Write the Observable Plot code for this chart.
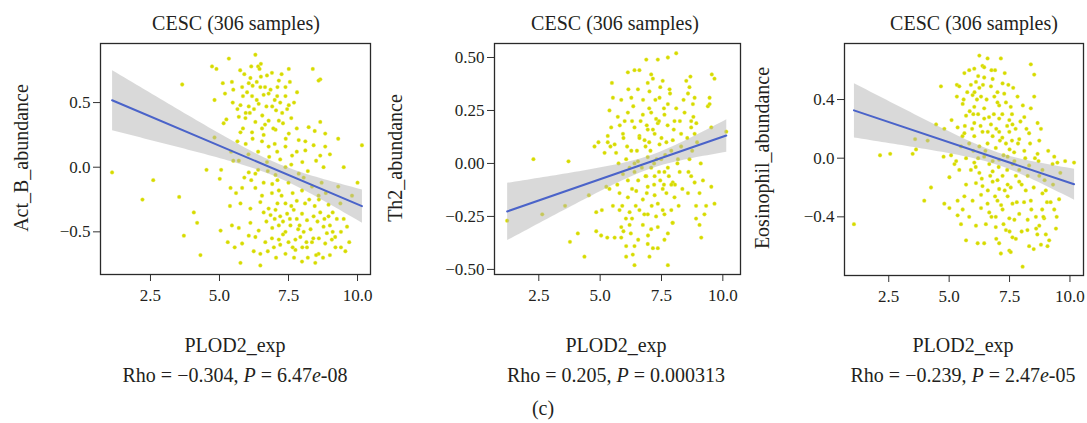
<!DOCTYPE html>
<html><head><meta charset="utf-8">
<script src="https://cdn.jsdelivr.net/npm/d3@7"></script>
<script src="https://cdn.jsdelivr.net/npm/@observablehq/plot@0.6"></script>
<style>
body{margin:0;background:#fff;}
#wrap{position:relative;width:1087px;height:423px;background:#fff;font-family:"Liberation Serif","Times New Roman",serif;color:#231f20;overflow:hidden;}
.t{position:absolute;transform:translate(-50%,-50%);white-space:nowrap;line-height:1;}
.yl{position:absolute;transform:translate(-50%,-50%) rotate(-90deg);white-space:nowrap;line-height:1;}
#wrap svg{position:absolute;top:0;overflow:visible;}
</style></head><body><div id="wrap"></div>
<script>
// ---------- data (PLOD2_exp, abundance) ----------
const actB = [
[1.11,-0.04],[2.21,-0.25],[2.60,-0.10],[3.54,-0.23],[3.65,0.64],[3.71,-0.53],[4.07,-0.35],[4.19,-0.43],[4.31,-0.68],[4.53,-0.02],
[4.73,0.78],[4.89,0.76],[4.82,0.52],[4.82,0.23],[5.01,-0.09],[5.06,-0.02],[5.04,-0.49],[5.34,0.84],[5.12,0.65],[5.20,0.57],
[5.15,0.34],[5.25,0.37],[5.40,-0.16],[5.38,-0.30],[5.45,0.66],[5.50,0.60],[5.48,0.50],[5.42,0.12],[5.50,0.05],[5.45,-0.45],
[5.55,-0.62],[5.30,-0.58],
[6.30,0.87],[6.40,0.78],[6.45,0.76],[6.72,0.71],[7.51,0.76],[8.38,0.76],[8.65,0.68],[8.59,0.67],[6.12,0.69],[6.06,0.65],
[7.15,0.67],[7.39,0.62],[5.82,0.62],[6.48,0.62],[6.78,0.57],[7.09,0.55],[7.39,0.55],[7.81,0.58],[6.18,0.55],[5.76,0.48],
[6.06,0.47],[6.42,0.49],[6.91,0.47],[7.51,0.48],[7.27,0.42],[5.70,0.39],[5.94,0.38],[6.30,0.35],[6.78,0.36],[7.15,0.36],
[8.65,0.35],[8.23,0.31],[5.76,0.27],[6.18,0.27],[6.54,0.30],[7.03,0.29],[7.51,0.26],[8.83,0.26],[7.87,0.21],[8.11,0.20],
[8.41,0.17],[8.83,0.16],[10.16,0.17],[6.54,0.20],[6.78,0.16],[7.09,0.12],[7.39,0.16],[7.63,0.09],[8.11,0.13],[6.72,0.04],
[8.65,0.09],[8.77,0.00],[9.50,0.00],[6.06,-0.04],[6.30,-0.05],[7.03,-0.06],[7.39,0.00],[7.87,-0.05],[6.91,-0.13],[5.82,-0.16],
[6.30,-0.16],[6.54,-0.22],[7.15,-0.18],[7.99,-0.18],[8.35,-0.15],[8.59,-0.22],[8.95,-0.29],[9.38,-0.28],[5.76,-0.28],[6.12,-0.32],
[6.48,-0.27],[6.78,-0.32],[7.03,-0.33],[7.39,-0.28],[7.69,-0.33],[7.99,-0.36],[8.17,-0.41],[8.41,-0.38],[8.77,-0.46],[8.89,-0.51],
[9.07,-0.56],[9.62,-0.46],[5.70,-0.47],[6.12,-0.43],[6.42,-0.49],[6.91,-0.47],[7.15,-0.45],[7.39,-0.50],[7.57,-0.45],[7.93,-0.54],
[6.06,-0.53],[6.30,-0.54],[6.66,-0.58],[7.15,-0.56],[7.75,-0.56],[5.82,-0.59],[6.24,-0.65],[6.48,-0.67],[6.97,-0.62],[7.39,-0.67],
[7.75,-0.64],[8.17,-0.62],[8.59,-0.67],[9.56,-0.65],[5.76,-0.74],[6.48,-0.76],[7.99,-0.73],[8.47,-0.74],[8.83,-0.59],[9.19,-0.54],
[5.90,0.72],[6.00,0.58],[6.10,0.42],[6.20,0.63],[6.25,0.45],[6.35,0.52],[6.50,0.70],[6.55,0.40],[6.60,0.56],[6.65,0.33],
[6.70,0.47],[6.85,0.60],[6.90,0.73],[6.95,0.30],[7.00,0.52],[7.05,0.44],[7.10,0.62],[7.20,0.50],[7.25,0.72],[7.30,0.34],
[7.45,0.45],[7.55,0.66],[7.60,0.38],[7.70,0.50],[7.80,0.30],[5.95,0.42],[6.15,0.78],[5.85,0.55],[6.35,0.66],[8.45,0.28],
[6.50,0.80],[6.65,0.62],[5.85,0.30],[5.95,0.18],[6.05,0.10],[6.20,0.22],[6.40,0.12],[6.60,0.25],[6.80,0.08],[7.00,0.18],
[7.20,0.06],[7.40,0.22],[7.60,0.02],[7.80,0.12],[8.00,0.04],[8.20,-0.03],[8.50,0.05],[9.00,0.10],[9.30,0.22],[5.90,-0.08],
[6.15,-0.10],[6.40,-0.02],[6.60,-0.12],[6.75,-0.03],[6.90,-0.20],[7.10,-0.10],[7.25,-0.22],[7.50,-0.12],[7.65,-0.20],[7.80,-0.26],
[8.05,-0.08],[8.25,-0.25],[8.45,-0.30],[8.70,-0.12],[8.85,-0.20],[9.10,-0.35],[9.30,-0.15],[9.50,-0.40],[9.80,-0.22],[8.95,-0.38],
[8.60,-0.25],[9.25,-0.40],[6.60,-0.35],[6.70,-0.42],[6.85,-0.37],[7.00,-0.40],[7.10,-0.28],[7.20,-0.38],[7.30,-0.42],[7.45,-0.36],
[7.55,-0.40],[7.60,-0.30],[7.80,-0.40],[7.90,-0.45],[8.05,-0.50],[8.10,-0.28],[8.30,-0.48],[8.40,-0.55],[8.55,-0.42],[8.65,-0.35],
[8.80,-0.40],[9.00,-0.45],[9.20,-0.62],[9.40,-0.50],[9.70,-0.58],[8.50,-0.68],[9.10,-0.50],[8.15,-0.58],[6.75,-0.65],[6.90,-0.55],
[7.05,-0.70],[7.20,-0.60],[7.30,-0.52],[7.50,-0.58],[7.65,-0.62],[7.70,-0.70],[7.85,-0.48],[8.00,-0.62],[8.20,-0.70],[8.35,-0.58],
[8.60,-0.55],[8.75,-0.70],[9.00,-0.68],[9.40,-0.62],[5.65,0.20],[5.70,0.05],[5.60,-0.20],[5.75,0.75],[5.65,0.45],[10.00,-0.12]
];
const th2 = [
[1.21,-0.27],[2.28,0.02],[3.71,0.01],[2.64,-0.24],[3.57,-0.20],[4.09,-0.33],[3.77,-0.37],[4.36,-0.44],[4.54,-0.15],[4.77,0.08],
[4.93,0.10],[5.18,0.05],[4.84,-0.23],[5.07,-0.22],[4.84,-0.32],[5.04,-0.34],[5.29,-0.35],[5.31,0.10],[5.42,0.08],[5.38,0.25],
[5.45,0.17],[5.48,0.38],[5.52,0.31],[5.31,0.13],[5.25,-0.11],[5.38,-0.12],[5.52,-0.20],
[8.10,0.52],[7.76,0.50],[7.35,0.49],[6.88,0.49],[6.60,0.44],[6.40,0.44],[6.13,0.43],[7.08,0.42],[8.51,0.39],[8.68,0.41],
[9.55,0.42],[6.94,0.38],[7.55,0.39],[7.83,0.35],[5.86,0.30],[6.27,0.31],[6.54,0.35],[7.01,0.34],[7.42,0.31],[7.76,0.28],
[8.85,0.31],[9.46,0.31],[9.39,0.27],[9.46,0.28],[5.72,0.22],[6.13,0.24],[6.74,0.23],[7.08,0.24],[7.28,0.21],[7.35,0.19],
[7.62,0.23],[8.03,0.20],[8.44,0.24],[8.71,0.20],[5.59,0.09],[5.93,0.14],[6.40,0.17],[6.60,0.13],[6.94,0.16],[7.22,0.14],
[6.81,0.11],[7.42,0.09],[7.96,0.11],[8.30,0.14],[8.85,0.14],[5.65,0.05],[6.06,0.02],[6.27,0.06],[6.54,0.01],[6.94,0.03],
[7.08,-0.02],[7.49,0.02],[7.76,-0.02],[8.17,0.02],[8.64,0.02],[5.93,-0.05],[6.13,-0.08],[6.40,-0.04],[6.88,-0.06],[7.22,-0.06],
[6.94,-0.11],[7.62,-0.04],[7.96,-0.09],[8.24,-0.04],[8.71,-0.06],[8.85,-0.09],[9.05,-0.14],[5.79,-0.14],[6.13,-0.16],[6.47,-0.13],
[6.74,-0.17],[7.22,-0.15],[7.35,-0.19],[7.55,-0.12],[8.03,-0.16],[8.58,-0.14],[8.91,-0.20],[9.32,-0.20],[9.66,-0.19],[5.79,-0.22],
[6.20,-0.23],[6.60,-0.22],[6.94,-0.24],[7.28,-0.25],[7.62,-0.24],[7.90,-0.22],[8.91,-0.26],[5.86,-0.30],[6.20,-0.29],[6.74,-0.29],
[7.08,-0.31],[7.76,-0.33],[7.96,-0.28],[9.05,-0.29],[5.59,-0.35],[5.86,-0.35],[6.94,-0.38],[7.35,-0.40],[7.62,-0.36],[9.12,-0.35],
[6.06,-0.39],[6.40,-0.39],[7.15,-0.40],[6.06,-0.44],[6.33,-0.43],[7.01,-0.44],[6.40,-0.48],[7.76,-0.48],[9.66,0.40],[9.53,0.17],
[10.14,0.15],[9.19,-0.08],[9.53,-0.11],[8.64,0.36],[8.58,0.33],[8.78,0.28],[8.92,0.19],[8.71,0.17],
[6.00,0.20],[6.10,0.08],[6.20,-0.02],[6.30,-0.12],[6.35,0.27],[6.45,-0.20],[6.50,0.06],[6.55,-0.08],[6.65,0.20],[6.70,-0.02],
[6.75,0.30],[6.80,-0.24],[6.85,0.08],[6.90,-0.14],[7.00,0.26],[7.05,0.06],[7.10,-0.20],[7.15,0.16],[7.20,-0.10],[7.25,0.30],
[7.30,0.02],[7.35,-0.30],[7.40,0.20],[7.45,-0.08],[7.50,0.12],[7.55,-0.22],[7.60,0.26],[7.65,0.04],[7.70,-0.14],[7.75,0.18],
[7.80,-0.06],[7.85,0.33],[7.90,0.06],[7.95,-0.28],[8.00,0.16],[8.05,-0.10],[8.10,0.26],[8.15,0.00],[8.20,-0.20],[8.30,0.08],
[8.35,-0.12],[8.40,0.30],[6.30,-0.26],[8.55,0.12],[8.60,-0.04],[8.75,0.06],[8.80,0.22],[8.95,0.10],[5.95,-0.32],[9.10,0.00],
[9.25,-0.24],[5.90,-0.20],[5.95,0.12],[6.05,-0.26],[6.15,0.35],[6.25,-0.33],[6.55,-0.36],[6.95,-0.34],[7.15,0.40],[7.45,0.36],
[7.00,0.10],[6.60,0.12],[6.40,0.00],[7.20,0.00],[7.60,-0.10],[8.25,0.20],[6.30,0.20],[6.85,-0.06],[7.40,-0.04],[7.90,-0.10],
[6.90,0.18],[7.70,0.10],[5.75,0.00],[5.70,-0.10],[5.80,0.18]
];
const eos = [
[1.06,-0.45],[2.14,0.02],[2.56,0.03],[3.49,0.03],[3.63,0.06],[3.59,0.13],[4.11,0.12],[3.97,-0.29],[4.25,-0.20],[4.66,0.49],
[4.46,0.23],[4.80,0.20],[4.77,0.01],[4.80,-0.31],[5.01,-0.34],[5.01,-0.13],[5.08,0.02],[5.22,-0.04],[5.29,-0.02],[5.10,0.26],
[5.32,0.50],[5.32,0.42],[5.35,0.21],[5.35,-0.29],[5.35,-0.39],
[6.25,0.70],[6.59,0.68],[7.14,0.68],[8.38,0.64],[5.63,0.58],[5.83,0.60],[6.04,0.61],[6.38,0.63],[6.45,0.55],[6.80,0.54],
[6.11,0.52],[5.90,0.50],[6.25,0.48],[6.73,0.49],[7.21,0.51],[7.00,0.45],[8.52,0.57],[5.42,0.49],[5.56,0.37],[5.97,0.43],
[6.32,0.42],[6.87,0.42],[7.28,0.44],[7.83,0.42],[8.52,0.42],[6.04,0.35],[6.45,0.34],[7.07,0.36],[7.55,0.35],[8.38,0.34],
[8.66,0.24],[5.70,0.29],[6.04,0.24],[6.45,0.27],[6.73,0.23],[7.07,0.27],[7.49,0.26],[7.62,0.23],[8.11,0.28],[5.63,0.17],
[6.04,0.15],[6.38,0.18],[6.80,0.15],[7.07,0.18],[7.49,0.18],[7.90,0.13],[8.31,0.17],[8.73,0.12],[5.49,0.08],[5.83,0.10],
[6.25,0.08],[6.59,0.10],[6.93,0.07],[7.35,0.10],[7.69,0.04],[8.11,0.05],[8.66,0.03],[9.35,0.01],[9.48,-0.03],[10.17,-0.03],
[5.70,0.00],[6.04,-0.03],[6.45,0.01],[6.66,-0.04],[7.07,-0.01],[7.42,0.01],[7.62,-0.04],[8.31,-0.05],[8.86,-0.08],[9.28,-0.04],
[5.42,-0.08],[5.90,-0.08],[6.25,-0.10],[6.80,-0.09],[7.21,-0.12],[7.76,-0.12],[8.73,-0.12],[5.70,-0.18],[6.11,-0.17],[6.38,-0.19],
[6.80,-0.16],[7.07,-0.21],[7.42,-0.18],[7.90,-0.16],[8.17,-0.22],[5.63,-0.26],[5.97,-0.29],[6.32,-0.25],[6.59,-0.31],[7.00,-0.29],
[7.42,-0.26],[7.62,-0.31],[8.38,-0.29],[8.86,-0.24],[9.55,-0.28],[5.56,-0.35],[5.83,-0.40],[6.32,-0.34],[6.66,-0.37],[6.93,-0.40],
[7.21,-0.35],[7.49,-0.41],[7.90,-0.38],[8.59,-0.40],[8.93,-0.41],[5.49,-0.45],[6.11,-0.46],[6.52,-0.45],[6.93,-0.47],[7.35,-0.49],
[7.62,-0.54],[8.24,-0.49],[8.73,-0.46],[9.00,-0.52],[9.42,-0.48],[5.70,-0.56],[6.18,-0.58],[6.45,-0.58],[7.07,-0.58],[7.49,-0.63],
[7.76,-0.55],[8.31,-0.60],[8.80,-0.59],[9.07,-0.60],[7.14,-0.65],[7.55,-0.64],[8.04,-0.74],[9.14,-0.56],
[5.60,0.40],[5.75,0.45],[5.85,0.32],[5.95,0.20],[6.00,0.05],[6.10,-0.06],[6.15,0.40],[6.20,0.30],[6.30,0.22],[6.35,-0.14],
[6.40,0.50],[6.50,0.05],[6.55,0.40],[6.60,-0.22],[6.65,0.28],[6.70,-0.12],[6.75,0.60],[6.85,0.30],[6.90,-0.26],[6.95,0.20],
[7.00,0.38],[7.05,-0.06],[7.10,0.12],[7.15,-0.32],[7.20,0.30],[7.25,0.02],[7.30,-0.22],[7.35,0.38],[7.40,-0.08],[7.45,0.50],
[7.50,0.06],[7.55,-0.20],[7.60,0.30],[7.70,-0.02],[7.75,0.20],[7.80,-0.30],[7.85,0.10],[7.90,-0.08],[7.95,0.25],[8.00,-0.18],
[8.05,0.36],[8.10,-0.30],[8.15,0.00],[8.20,0.20],[8.25,-0.12],[8.35,0.10],[8.40,-0.35],[6.20,0.56],[8.50,-0.20],[8.55,0.00],
[6.00,0.30],[8.65,-0.52],[8.70,-0.02],[8.80,0.20],[8.85,-0.35],[8.95,-0.15],[9.05,-0.30],[9.10,0.05],[9.20,-0.30],[9.30,-0.18],
[9.45,-0.40],[9.60,-0.10],[9.80,-0.02],[8.90,-0.40],[9.00,-0.22],[8.60,-0.48],[6.75,-0.40],[6.95,-0.55],[7.25,-0.45],[7.50,-0.50],
[7.70,-0.42],[8.00,-0.50],[8.25,-0.42],[8.50,-0.62],[5.55,0.15],[5.65,0.22],[9.35,-0.35],[6.05,0.45],[6.45,0.62],[6.90,0.60],
[7.30,0.58],[7.65,0.48],[6.60,0.18],[7.00,-0.15],[7.40,0.22],[6.20,0.00],[6.80,-0.02],[7.20,0.14],[7.60,0.12]
];

const xTicks = [2.5, 5.0, 7.5, 10.0];
const actBTicks = [-0.5, 0.0, 0.5];
const th2Ticks = [-0.5, -0.25, 0.0, 0.25, 0.5];
const eosTicks = [-0.4, 0.0, 0.4];

const titles = ["CESC (306 samples)", "CESC (306 samples)", "CESC (306 samples)"];
const yLabels = ["Act_B_abundance", "Th2_abundance", "Eosinophil_abundance"];
const xLabel = "PLOD2_exp";
const rhoValues = ["−0.304", "0.205", "−0.239"];
const pValues = [["6.47", "-08"], ["0.000313", null], ["2.47", "-05"]];
const panelTag = "(c)";

// ---------- layout ----------
const panels = [
  {data: actB, yTicks: actBTicks, fmt: ".1f", xDom: [0.69, 10.47], yDom: [-0.83, 0.957],
   left: 0, width: 376, mL: 100, mR: 6, mT: 43, mB: 36, cx: 235, tx: 236, ylx: 21},
  {data: th2, yTicks: th2Ticks, fmt: ".2f", xDom: [0.694, 10.72], yDom: [-0.524, 0.566],
   left: 380, width: 366, mL: 114, mR: 6, mT: 43, mB: 36, cx: 616, tx: 615, ylx: 395},
  {data: eos, yTicks: eosTicks, fmt: ".1f", xDom: [0.669, 10.56], yDom: [-0.80, 0.782],
   left: 750, width: 337, mL: 94, mR: 4, mT: 43, mB: 35, cx: 963, tx: 974, ylx: 762}
];

const wrap = document.getElementById("wrap");
function addText(cls, txt, x, y, size, html) {
  const d = document.createElement("div");
  d.className = cls;
  if (html) d.innerHTML = txt; else d.textContent = txt;
  d.style.left = x + "px"; d.style.top = y + "px"; d.style.fontSize = size + "px";
  wrap.appendChild(d);
}

panels.forEach((p, i) => {
  const chart = Plot.plot({
    width: p.width, height: 310,
    marginLeft: p.mL, marginRight: p.mR, marginTop: p.mT, marginBottom: p.mB,
    style: {fontFamily: '"Liberation Serif","Times New Roman",serif', fontSize: "17px", color: "#231f20", background: "transparent"},
    x: {domain: p.xDom},
    y: {domain: p.yDom},
    marks: [
      Plot.dot(p.data, {x: d => d[0], y: d => d[1], r: 1.9, fill: "#d6da00", stroke: "#eef06a", strokeWidth: 0.6, strokeOpacity: 0.6}),
      Plot.linearRegressionY(p.data, {x: d => d[0], y: d => d[1], stroke: "#4a63c9", strokeWidth: 2, fill: "#b4b4b4", fillOpacity: 0.5, ci: 0.95}),
      Plot.axisX({ticks: xTicks, tickFormat: d3.format(".1f"), tickSize: 7, tickPadding: 7, fontSize: 17, label: null, stroke: "#333"}),
      Plot.axisY({ticks: p.yTicks, tickFormat: d3.format(p.fmt), tickSize: 7, tickPadding: 3, fontSize: 17, label: null, stroke: "#333"}),
      Plot.frame({stroke: "#2a2a2a", strokeWidth: 1.3})
    ]
  });
  chart.style.left = p.left + "px";
  wrap.appendChild(chart);

  addText("t", titles[i], p.tx, 23, 20);
  addText("yl", yLabels[i], p.ylx, 158, 20);
  addText("t", xLabel, p.cx, 345, 20);
  const pv = pValues[i];
  const pTxt = pv[1] ? `${pv[0]}<i>e</i>${pv[1]}` : pv[0];
  addText("t", `Rho = ${rhoValues[i]}, <i>P</i> = ${pTxt}`, p.cx, 375, 20, true);
});
addText("t", panelTag, 543, 408, 20);
</script>
</body></html>
